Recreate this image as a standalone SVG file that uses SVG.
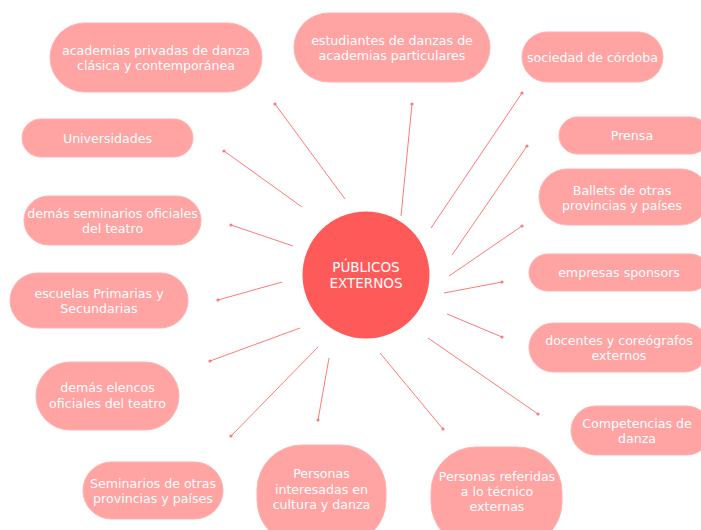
<svg xmlns="http://www.w3.org/2000/svg" width="701" height="530" viewBox="0 0 701 530">
<defs>
<marker id="dot" viewBox="0 0 4 4" refX="2" refY="2" markerWidth="4" markerHeight="4" markerUnits="userSpaceOnUse">
<circle cx="2" cy="2" r="1.6" fill="#FF7A7A"/>
</marker>
<style>
.n rect{fill:#FFA3A3;stroke:#FFB3B3;stroke-width:1}
.n text{fill:#FFFFFF;font-family:"DejaVu Sans","Noto Sans",sans-serif;font-size:12.6px;text-anchor:middle}
.c circle{fill:#FF5A5A}
.c text{fill:#FFFFFF;font-family:"DejaVu Sans","Noto Sans",sans-serif;font-size:13.5px;text-anchor:middle}
#connectors line{stroke:#FF7A7A;stroke-width:1;marker-end:url(#dot)}
</style>
</defs>
<rect width="701" height="530" fill="#FFFFFF"/>
<g id="connectors">
<line x1="345" y1="199" x2="275" y2="104"/>
<line x1="302" y1="207" x2="224" y2="151"/>
<line x1="293" y1="246" x2="231" y2="225"/>
<line x1="282" y1="282" x2="218" y2="300"/>
<line x1="300" y1="328" x2="210" y2="361"/>
<line x1="318" y1="347" x2="231" y2="436"/>
<line x1="329" y1="358" x2="318" y2="420"/>
<line x1="380" y1="353" x2="443" y2="429"/>
<line x1="428" y1="338" x2="538" y2="414"/>
<line x1="447" y1="314" x2="502" y2="337"/>
<line x1="444" y1="293" x2="502" y2="282"/>
<line x1="449" y1="276" x2="522" y2="226"/>
<line x1="452" y1="255" x2="527" y2="146"/>
<line x1="431" y1="228" x2="522" y2="93"/>
<line x1="401" y1="216" x2="412" y2="104"/>
</g>
<g id="center" class="c">
<circle cx="366" cy="275" r="63.5"/>
<text x="366" y="272">PÚBLICOS</text>
<text x="366" y="288">EXTERNOS</text>
</g>
<g id="n-academias" class="n">
<rect x="50" y="23" width="212" height="69" rx="34.5"/>
<text x="156" y="55">academias privadas de danza</text>
<text x="156" y="70">clásica y contemporánea</text>
</g>
<g id="n-estudiantes" class="n">
<rect x="294" y="13" width="196" height="69" rx="34.5"/>
<text x="392" y="45">estudiantes de danzas de</text>
<text x="392" y="60">academias particulares</text>
</g>
<g id="n-sociedad" class="n">
<rect x="522" y="32" width="141" height="50" rx="25"/>
<text x="592.5" y="62">sociedad de córdoba</text>
</g>
<g id="n-prensa" class="n">
<rect x="559" y="117" width="150" height="37" rx="18.5"/>
<text x="632" y="140">Prensa</text>
</g>
<g id="n-ballets" class="n">
<rect x="539" y="169" width="170" height="56" rx="28"/>
<text x="622" y="195">Ballets de otras</text>
<text x="622" y="210">provincias y países</text>
</g>
<g id="n-empresas" class="n">
<rect x="529" y="254" width="180" height="37" rx="18.5"/>
<text x="619" y="277">empresas sponsors</text>
</g>
<g id="n-docentes" class="n">
<rect x="529" y="323" width="180" height="49" rx="24.5"/>
<text x="619" y="345">docentes y coreógrafos</text>
<text x="619" y="360">externos</text>
</g>
<g id="n-competencias" class="n">
<rect x="571" y="406" width="140" height="49" rx="24.5"/>
<text x="637" y="428">Competencias de</text>
<text x="637" y="443">danza</text>
</g>
<g id="n-referidas" class="n">
<rect x="431" y="447" width="131" height="100" rx="45"/>
<text x="497" y="481">Personas referidas</text>
<text x="497" y="496">a lo técnico</text>
<text x="497" y="511">externas</text>
</g>
<g id="n-interesadas" class="n">
<rect x="257" y="445" width="129" height="100" rx="45"/>
<text x="321.5" y="478">Personas</text>
<text x="321.5" y="494">interesadas en</text>
<text x="321.5" y="509">cultura y danza</text>
</g>
<g id="n-seminarios-otras" class="n">
<rect x="83" y="462" width="140" height="57" rx="28.5"/>
<text x="153" y="488">Seminarios de otras</text>
<text x="153" y="503">provincias y países</text>
</g>
<g id="n-elencos" class="n">
<rect x="36" y="362" width="143" height="68" rx="34"/>
<text x="107.5" y="392">demás elencos</text>
<text x="107.5" y="408">oficiales del teatro</text>
</g>
<g id="n-escuelas" class="n">
<rect x="10" y="273" width="178" height="55" rx="27.5"/>
<text x="99" y="298">escuelas Primarias y</text>
<text x="99" y="313">Secundarias</text>
</g>
<g id="n-seminarios-oficiales" class="n">
<rect x="24" y="196" width="177" height="49" rx="24.5"/>
<text x="112.5" y="218">demás seminarios oficiales</text>
<text x="112.5" y="233">del teatro</text>
</g>
<g id="n-universidades" class="n">
<rect x="22" y="119" width="171" height="38" rx="19"/>
<text x="107.5" y="143">Universidades</text>
</g>
</svg>
